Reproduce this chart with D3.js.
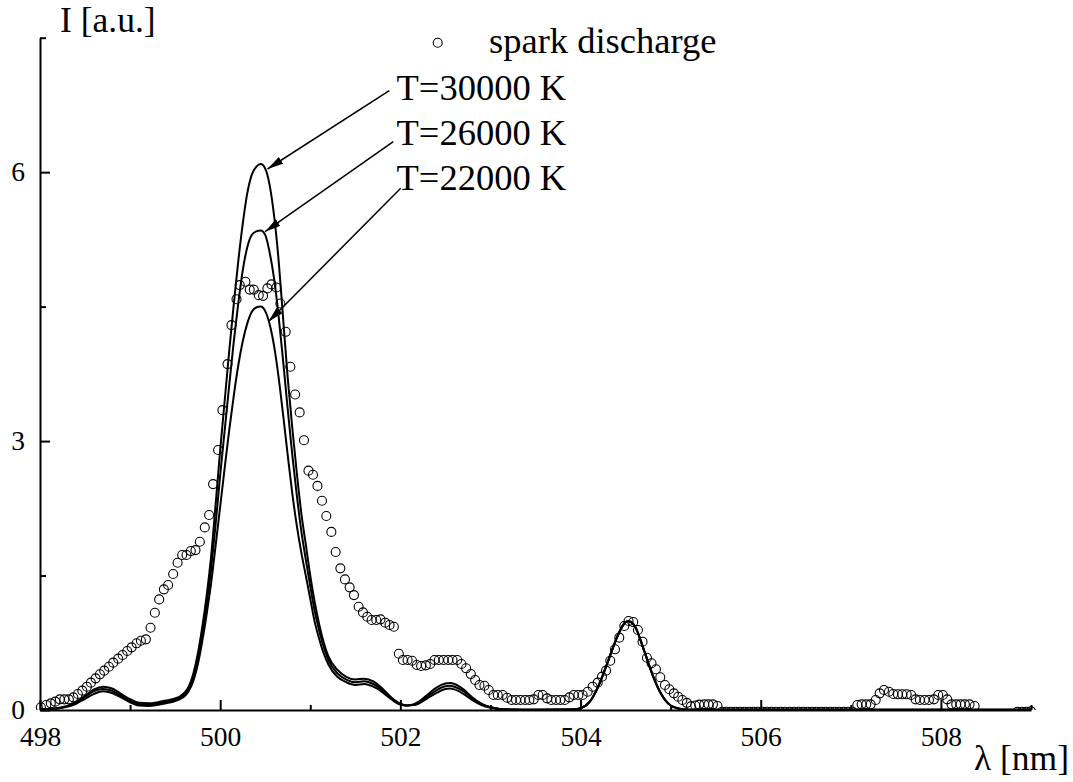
<!DOCTYPE html>
<html>
<head>
<meta charset="utf-8">
<script src="https://cdn.jsdelivr.net/npm/d3@7"></script>
<style>
  body { margin: 0; background: #fff; }
  text { font-family: "Liberation Serif", "Times New Roman", serif; fill: #000; }
</style>
</head>
<body>
<svg id="chart" width="1073" height="782" font-family="Liberation Serif, Times New Roman, serif"></svg>
<script>
// ---------------- DATA ----------------
const modelX = [
  498.0, 498.1, 498.2, 498.3, 498.4, 498.5, 498.6, 498.7, 498.8, 498.9,
  499.0, 499.1, 499.2, 499.3, 499.4, 499.5, 499.55, 499.6, 499.65, 499.7,
  499.75, 499.8, 499.85, 499.9, 499.95, 500.0, 500.05, 500.1, 500.15, 500.2,
  500.25, 500.3, 500.35, 500.4, 500.45, 500.5, 500.55, 500.6, 500.65, 500.7,
  500.75, 500.8, 500.85, 500.9, 500.95, 501.0, 501.05, 501.1, 501.15, 501.2,
  501.3, 501.4, 501.5, 501.6, 501.7, 501.8, 501.9, 502.0, 502.07, 502.15,
  502.2, 502.3, 502.4, 502.5, 502.55, 502.6, 502.7, 502.8, 502.9, 503.0,
  503.1, 503.2, 503.5, 503.9, 504.0, 504.1, 504.2, 504.3, 504.4, 504.45,
  504.5, 504.53, 504.6, 504.7, 504.8, 504.9, 505.0, 505.1, 505.2, 505.5,
  506.5, 507.5, 508.5, 509.0
];
const t30000 = [
  0.005, 0.01, 0.022, 0.045, 0.09, 0.16, 0.23, 0.26, 0.24, 0.18,
  0.12, 0.08, 0.075, 0.085, 0.105, 0.13, 0.15, 0.19, 0.26, 0.40,
  0.62, 0.92, 1.28, 1.72, 2.30, 2.90, 3.45, 4.00, 4.52, 5.00,
  5.42, 5.76, 5.97, 6.06, 6.09, 6.04, 5.85, 5.50, 5.00, 4.35,
  3.70, 3.15, 2.65, 2.20, 1.85, 1.50, 1.20, 0.95, 0.75, 0.60,
  0.45, 0.37, 0.34, 0.35, 0.32, 0.24, 0.14, 0.07, 0.05, 0.065,
  0.09, 0.17, 0.25, 0.295, 0.30, 0.29, 0.23, 0.14, 0.07, 0.03,
  0.012, 0.005, 0.002, 0.005, 0.02, 0.09, 0.27, 0.53, 0.80, 0.91,
  0.98, 0.99, 0.94, 0.68, 0.39, 0.17, 0.05, 0.015, 0.004, 0.002,
  0.002, 0.002, 0.002, 0.002
];
const t26000 = [
  0.005, 0.01, 0.02, 0.04, 0.08, 0.145, 0.21, 0.235, 0.215, 0.16,
  0.105, 0.065, 0.06, 0.07, 0.09, 0.115, 0.135, 0.17, 0.235, 0.36,
  0.56, 0.84, 1.17, 1.58, 2.08, 2.62, 3.12, 3.62, 4.10, 4.53,
  4.90, 5.16, 5.30, 5.34, 5.35, 5.30, 5.10, 4.80, 4.38, 3.88,
  3.35, 2.85, 2.40, 2.00, 1.68, 1.38, 1.10, 0.88, 0.70, 0.56,
  0.41, 0.34, 0.31, 0.32, 0.29, 0.22, 0.13, 0.065, 0.05, 0.06,
  0.08, 0.15, 0.22, 0.265, 0.27, 0.26, 0.21, 0.13, 0.065, 0.03,
  0.012, 0.005, 0.002, 0.005, 0.02, 0.09, 0.27, 0.53, 0.80, 0.91,
  0.98, 0.99, 0.94, 0.68, 0.39, 0.17, 0.05, 0.015, 0.004, 0.002,
  0.002, 0.002, 0.002, 0.002
];
const t22000 = [
  0.005, 0.008, 0.017, 0.035, 0.07, 0.125, 0.18, 0.21, 0.19, 0.14,
  0.085, 0.05, 0.045, 0.055, 0.075, 0.10, 0.12, 0.15, 0.21, 0.32,
  0.50, 0.76, 1.07, 1.42, 1.84, 2.27, 2.70, 3.12, 3.50, 3.84,
  4.11, 4.31, 4.44, 4.49, 4.50, 4.45, 4.30, 4.05, 3.70, 3.28,
  2.84, 2.42, 2.06, 1.76, 1.50, 1.24, 0.98, 0.79, 0.63, 0.51,
  0.37, 0.31, 0.28, 0.29, 0.26, 0.20, 0.12, 0.06, 0.05, 0.055,
  0.07, 0.13, 0.19, 0.235, 0.24, 0.23, 0.18, 0.11, 0.055, 0.025,
  0.01, 0.005, 0.002, 0.005, 0.02, 0.09, 0.27, 0.53, 0.80, 0.91,
  0.98, 0.99, 0.94, 0.68, 0.39, 0.17, 0.05, 0.015, 0.004, 0.002,
  0.002, 0.002, 0.002, 0.002
];
const modelLabels = ["T=30000 K", "T=26000 K", "T=22000 K"];

// spark discharge measurement: [wavelength nm, intensity a.u.]
const spark = [
  [498.01,0.03],[498.07,0.056],[498.12,0.074],[498.17,0.093],[498.22,0.119],[498.27,0.119],
  [498.32,0.119],[498.37,0.141],[498.42,0.178],[498.47,0.216],[498.52,0.26],[498.565,0.305],
  [498.617,0.353],[498.665,0.398],[498.713,0.439],[498.765,0.483],[498.813,0.528],[498.868,0.573],
  [498.917,0.613],[498.968,0.658],[499.017,0.699],[499.072,0.744],[499.12,0.773],[499.175,0.788],
  [499.227,0.918],[499.275,1.085],[499.323,1.234],[499.375,1.346],[499.422,1.394],[499.478,1.517],
  [499.527,1.643],[499.578,1.729],[499.626,1.729],[499.674,1.773],[499.726,1.784],[499.774,1.877],
  [499.829,2.037],[499.877,2.175],[499.921,2.52],[499.977,2.9],[500.025,3.345],[500.081,3.859],
  [500.125,4.294],[500.181,4.583],[500.217,4.74],[500.28,4.777],[500.328,4.69],[500.373,4.69],
  [500.428,4.628],[500.476,4.62],[500.524,4.703],[500.569,4.748],[500.624,4.714],[500.668,4.535],
  [500.727,4.219],[500.779,3.829],[500.832,3.52],[500.882,3.32],[500.93,3.01],[500.98,2.67],
  [501.03,2.624],[501.08,2.5],[501.13,2.334],[501.178,2.164],[501.234,1.987],[501.282,1.763],
  [501.334,1.58],[501.385,1.457],[501.437,1.368],[501.485,1.282],[501.537,1.152],[501.585,1.089],
  [501.633,1.04],[501.681,1.004],[501.733,1.004],[501.78,1.011],[501.833,0.974],[501.88,0.948],
  [501.928,0.929],[501.983,0.628],[502.028,0.558],[502.08,0.558],[502.13,0.55],[502.183,0.502],
  [502.231,0.491],[502.283,0.498],[502.331,0.513],[502.379,0.558],[502.427,0.558],[502.479,0.558],
  [502.531,0.558],[502.579,0.558],[502.631,0.558],[502.678,0.513],[502.73,0.465],[502.782,0.401],
  [502.83,0.335],[502.878,0.279],[502.933,0.271],[502.981,0.223],[503.033,0.167],[503.081,0.167],
  [503.136,0.167],[503.185,0.137],[503.236,0.112],[503.284,0.112],[503.333,0.112],[503.385,0.112],
  [503.432,0.112],[503.48,0.119],[503.532,0.167],[503.58,0.167],[503.629,0.13],[503.676,0.112],
  [503.728,0.112],[503.776,0.112],[503.824,0.112],[503.876,0.141],[503.924,0.167],[503.976,0.167],
  [504.023,0.167],[504.079,0.204],[504.134,0.26],[504.19,0.305],[504.238,0.372],[504.283,0.439],
  [504.33,0.55],[504.382,0.677],[504.43,0.807],[504.486,0.937],[504.533,0.993],[504.585,0.981],
  [504.637,0.892],[504.688,0.762],[504.737,0.583],[504.788,0.521],[504.837,0.454],[504.885,0.365],
  [504.937,0.279],[504.985,0.231],[505.036,0.186],[505.084,0.148],[505.13,0.112],[505.18,0.08],
  [505.225,0.04],[505.273,0.05],[505.317,0.06],[505.373,0.063],[505.42,0.063],[505.47,0.063],
  [505.52,0.045],
  [505.57,-0.02],[505.62,-0.02],[505.67,-0.02],[505.72,-0.02],[505.77,-0.02],[505.82,-0.02],
  [505.87,-0.02],[505.92,-0.02],[505.97,-0.02],[506.02,-0.02],[506.07,-0.02],[506.12,-0.02],
  [506.17,-0.02],[506.22,-0.02],[506.27,-0.02],[506.32,-0.02],[506.37,-0.02],[506.42,-0.02],
  [506.47,-0.02],[506.52,-0.02],[506.57,-0.02],[506.62,-0.02],[506.67,-0.02],[506.72,-0.02],
  [506.77,-0.02],[506.82,-0.02],[506.87,-0.02],[506.92,-0.02],[506.97,-0.02],[507.02,-0.02],
  [507.072,0.056],[507.12,0.063],[507.172,0.063],[507.22,0.063],[507.276,0.112],[507.32,0.186],
  [507.368,0.223],[507.423,0.204],[507.471,0.178],[507.523,0.175],[507.571,0.175],[507.62,0.175],
  [507.67,0.167],[507.719,0.119],[507.767,0.112],[507.819,0.112],[507.867,0.112],[507.922,0.119],
  [507.97,0.167],[508.022,0.167],[508.07,0.119],[508.118,0.063],[508.17,0.063],[508.218,0.063],
  [508.266,0.063],[508.318,0.063],[508.374,0.045],
  [508.85,-0.02],[508.9,-0.02],[508.95,-0.02],[509.0,-0.015]
];
const sparkLabel = "spark discharge";

const xMajorTicks = [498, 500, 502, 504, 506, 508];
const xMinorTicks = [499, 501, 503, 505, 507, 509];
const yMajorTicks = [0, 3, 6];
const yMinorTicks = [1.5, 4.5, 7.5];
const xTitle = "λ [nm]";
const yTitle = "I [a.u.]";

// ---------------- DRAWING ----------------
const FONT = "'Liberation Serif', 'Times New Roman', serif";
const svg = d3.select("#chart");
const x = d3.scaleLinear().domain([498, 509]).range([40, 1031]);
const y = d3.scaleLinear().domain([0, 7.5]).range([710, 37.7]);

svg.append("rect").attr("width", 1073).attr("height", 782).attr("fill", "#fff");

const defs = svg.append("defs");
defs.append("clipPath").attr("id", "plotClip")
  .append("rect").attr("x", 30).attr("y", 0).attr("width", 1040).attr("height", 710);
defs.append("marker")
  .attr("id", "arrowHead")
  .attr("viewBox", "0 0 16 8")
  .attr("refX", 16).attr("refY", 4)
  .attr("markerWidth", 16).attr("markerHeight", 8)
  .attr("markerUnits", "userSpaceOnUse")
  .attr("orient", "auto")
  .append("path").attr("d", "M0,0 L16,4 L0,8 Z").attr("fill", "#000");

// model curves
const series = [t30000, t26000, t22000];
const line = d3.line()
  .x((d, i) => x(modelX[i]))
  .y(d => y(d))
  .curve(d3.curveMonotoneX);
svg.append("g").selectAll("path").data(series).join("path")
  .attr("d", d => line(d))
  .attr("fill", "none")
  .attr("stroke", "#000")
  .attr("stroke-width", 2)
  .attr("stroke-linejoin", "round");

// spark discharge points
svg.append("g").attr("clip-path", "url(#plotClip)")
  .selectAll("circle").data(spark).join("circle")
  .attr("cx", d => x(d[0]))
  .attr("cy", d => y(d[1]))
  .attr("r", 4.5)
  .attr("fill", "none")
  .attr("stroke", "#000")
  .attr("stroke-width", 1.1);

// axes
const xAxis = svg.append("g").attr("transform", `translate(0,${y(0)})`)
  .call(d3.axisBottom(x).tickValues(xMajorTicks).tickSize(-10).tickSizeOuter(0).tickPadding(16).tickFormat(d3.format("d")));
const xAxisMinor = svg.append("g").attr("transform", `translate(0,${y(0)})`)
  .call(d3.axisBottom(x).tickValues(xMinorTicks).tickSize(-5).tickSizeOuter(0).tickFormat(""));
const yAxis = svg.append("g").attr("transform", `translate(${x(498)},0)`)
  .call(d3.axisLeft(y).tickValues(yMajorTicks).tickSize(-10).tickSizeOuter(0).tickPadding(15).tickFormat(d3.format("d")));
const yAxisMinor = svg.append("g").attr("transform", `translate(${x(498)},0)`)
  .call(d3.axisLeft(y).tickValues(yMinorTicks).tickSize(-6).tickSizeOuter(0).tickFormat(""));

[xAxis, xAxisMinor, yAxis, yAxisMinor].forEach(g => {
  g.attr("font-family", FONT).attr("font-size", 27.5);
  g.selectAll("path.domain").attr("stroke", "#000").attr("stroke-width", 2);
  g.selectAll(".tick line").attr("stroke", "#000").attr("stroke-width", 2);
  g.selectAll(".tick text").attr("font-family", FONT).attr("font-size", 27.5).attr("fill", "#000");
});
xAxisMinor.select("path.domain").remove();
yAxisMinor.select("path.domain").remove();

// axis titles
svg.append("text").attr("x", 60).attr("y", 32).attr("font-family", FONT).attr("font-size", 35.5).text(yTitle);
svg.append("text").attr("x", 1069).attr("y", 770).attr("font-family", FONT).attr("font-size", 35.5).attr("text-anchor", "end").text(xTitle);

// legend: spark discharge
svg.append("circle").attr("cx", 437.7).attr("cy", 42.7).attr("r", 4.5)
  .attr("fill", "none").attr("stroke", "#000").attr("stroke-width", 1.1);
svg.append("text").attr("x", 489).attr("y", 53).attr("font-family", FONT).attr("font-size", 36.5).text(sparkLabel);

// annotations with arrows (pixel layout)
const annot = [
  { tail: [389.3, 90.7], tip: [267.5, 169.0], tx: 396.5, ty: 100 },
  { tail: [393.3, 141.7], tip: [265.0, 231.7], tx: 396.5, ty: 145 },
  { tail: [400.7, 188.3], tip: [268.3, 321.7], tx: 396.5, ty: 190 }
];
annot.forEach((a, i) => {
  svg.append("line")
    .attr("x1", a.tail[0]).attr("y1", a.tail[1])
    .attr("x2", a.tip[0]).attr("y2", a.tip[1])
    .attr("stroke", "#000").attr("stroke-width", 1.5)
    .attr("marker-end", "url(#arrowHead)");
  svg.append("text").attr("x", a.tx).attr("y", a.ty).attr("font-family", FONT).attr("font-size", 36.5).text(modelLabels[i]);
});
</script>
</body>
</html>
